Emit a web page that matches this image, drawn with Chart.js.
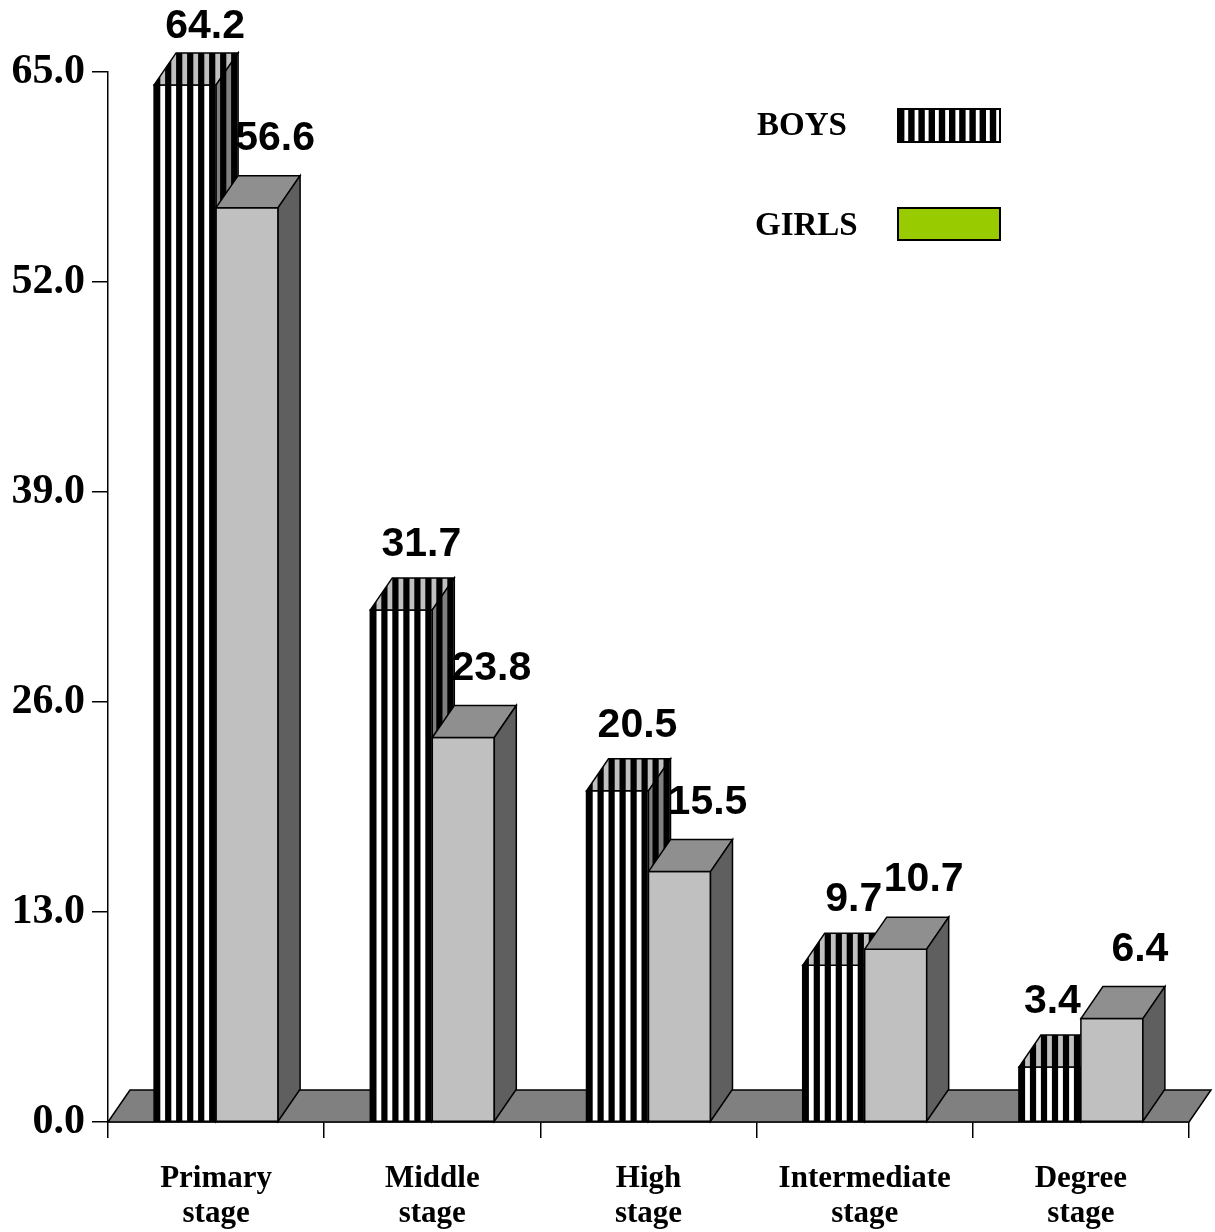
<!DOCTYPE html>
<html>
<head>
<meta charset="utf-8">
<script src="https://cdn.jsdelivr.net/npm/chart.js@4.4.1/dist/chart.umd.min.js"></script>
<style>
    html, body { margin: 0; padding: 0; background: #fff; }
</style>
</head>
<body>
<canvas id="chart" width="1215" height="1232"></canvas>
<script>
var stages = [['Primary', 'stage'], ['Middle', 'stage'], ['High', 'stage'], ['Intermediate', 'stage'], ['Degree', 'stage']];
var boys = [64.2, 31.7, 20.5, 9.7, 3.4];
var girls = [56.6, 23.8, 15.5, 10.7, 6.4];
var yTicks = [0, 13, 26, 39, 52, 65];
var legendNames = ['BOYS', 'GIRLS'];

// depth of the fake 3d
var DX = 22, DY = 32;
var serif = '"Liberation Serif", "Times New Roman", serif';
var sans = '"Liberation Sans", Arial, sans-serif';

function poly(ctx, pts, fill) {
    ctx.beginPath();
    ctx.moveTo(pts[0][0], pts[0][1]);
    for (var i = 1; i < pts.length; i++) {
        ctx.lineTo(pts[i][0], pts[i][1]);
    }
    ctx.closePath();
    if (fill) {
        ctx.fillStyle = fill;
        ctx.fill();
    }
}

function stripes(ctx, pts, x0, x1, y0, y1, period, black) {
    ctx.save();
    poly(ctx, pts);
    ctx.clip();
    ctx.fillStyle = '#000';
    for (var x = x0; x < x1; x += period) {
        ctx.fillRect(x, y0, black, y1 - y0);
    }
    ctx.restore();
}

function drawBox(ctx, bar, colors, striped) {
    var l = bar.x - bar.width / 2, r = bar.x + bar.width / 2, t = bar.y, b = bar.base;
    var faces = [
        [[l, b], [l, t], [r, t], [r, b]],
        [[l, t], [l + DX, t - DY], [r + DX, t - DY], [r, t]],
        [[r, b], [r, t], [r + DX, t - DY], [r + DX, b - DY]]
    ];
    faces.forEach(function (f, i) {
        poly(ctx, f, colors[i]);
        if (striped) {
            stripes(ctx, f, l, r + DX + 2, t - DY - 2, b + 2, 11, 6.2);
        }
        poly(ctx, f);
        ctx.stroke();
    });
}

var box3d = {
    id: 'box3d',
    beforeDatasetsDraw: function (chart) {
        var ctx = chart.ctx, area = chart.chartArea;
        var y0 = chart.scales.y.getPixelForValue(0);
        ctx.save();
        ctx.lineWidth = 1.5;
        ctx.strokeStyle = '#000';
        poly(ctx, [[area.left, y0], [area.left + DX, y0 - DY], [area.right + DX, y0 - DY], [area.right, y0]], '#808080');
        ctx.stroke();

        var boysBars = chart.getDatasetMeta(0).data;
        var girlsBars = chart.getDatasetMeta(1).data;
        for (var i = 0; i < boysBars.length; i++) {
            drawBox(ctx, boysBars[i], ['#ffffff', '#c0c0c0', '#808080'], true);
            drawBox(ctx, girlsBars[i], ['#c0c0c0', '#8f8f8f', '#5f5f5f'], false);
        }
        ctx.restore();
    },
    afterDatasetsDraw: function (chart) {
        var ctx = chart.ctx;
        var boysBars = chart.getDatasetMeta(0).data;
        var girlsBars = chart.getDatasetMeta(1).data;
        ctx.save();
        ctx.fillStyle = '#000';
        ctx.font = 'bold 41px ' + sans;
        ctx.textAlign = 'center';
        ctx.textBaseline = 'alphabetic';
        boysBars.forEach(function (bar, i) {
            var txt = boys[i].toFixed(1);
            var half = ctx.measureText(txt).width / 2;
            var x = bar.x + 20;
            var y = Math.max(bar.y - DY - 22, 38);
            // keep clear of a taller girls bar next to it
            var g = girlsBars[i];
            if (y > g.y - DY && x + half > g.x - g.width / 2) {
                x = g.x - g.width / 2 - half;
            }
            ctx.fillText(txt, x, y);
        });
        girlsBars.forEach(function (bar, i) {
            ctx.fillText(girls[i].toFixed(1), bar.x + 28, bar.y - DY - 26);
        });
        ctx.restore();
    },
    afterDraw: function (chart) {
        var ctx = chart.ctx;
        ctx.save();
        ctx.fillStyle = '#000';
        ctx.font = 'bold 33px ' + serif;
        ctx.textAlign = 'left';
        ctx.textBaseline = 'alphabetic';
        ctx.fillText(legendNames[0], 757, 135);
        ctx.fillText(legendNames[1], 755, 235);

        ctx.lineWidth = 2;
        ctx.strokeStyle = '#000';
        ctx.fillStyle = '#fff';
        ctx.fillRect(898, 109, 102, 33);
        ctx.fillStyle = '#000';
        for (var x = 898; x < 1000; x += 10.2) {
            ctx.fillRect(x, 109, 6.4, 33);
        }
        ctx.strokeRect(898, 109, 102, 33);

        ctx.fillStyle = '#99cc00';
        ctx.fillRect(898, 208, 102, 32);
        ctx.strokeRect(898, 208, 102, 32);
        ctx.restore();
    }
};

new Chart(document.getElementById('chart'), {
    type: 'bar',
    data: {
        labels: stages,
        datasets: [{
            label: legendNames[0],
            data: boys,
            backgroundColor: 'rgba(0,0,0,0)',
            borderWidth: 0
        }, {
            label: legendNames[1],
            data: girls,
            backgroundColor: 'rgba(0,0,0,0)',
            borderWidth: 0
        }]
    },
    options: {
        responsive: false,
        animation: false,
        devicePixelRatio: 1,
        layout: {padding: {top: 72, right: 26, left: 0, bottom: 0}},
        datasets: {bar: {categoryPercentage: 0.5735, barPercentage: 1}},
        plugins: {
            legend: {display: false},
            tooltip: {enabled: false}
        },
        scales: {
            x: {
                grid: {offset: true, drawOnChartArea: false, drawTicks: true, tickLength: 16, color: '#000', lineWidth: 1.5},
                border: {display: true, color: '#000', width: 1.5},
                ticks: {
                    color: '#000',
                    autoSkip: false,
                    maxRotation: 0,
                    padding: 23,
                    font: {family: serif, size: 31, weight: 'bold', lineHeight: 1.13}
                },
                afterFit: function (scale) { scale.height = 110; }
            },
            y: {
                min: 0,
                max: 65,
                afterBuildTicks: function (scale) {
                    scale.ticks = yTicks.map(function (v) { return {value: v}; });
                },
                grid: {drawOnChartArea: false, drawTicks: true, tickLength: 16, color: '#000', lineWidth: 1.5},
                border: {display: true, color: '#000', width: 1.5},
                ticks: {
                    color: '#000',
                    padding: 7,
                    font: {family: serif, size: 42, weight: 'bold'},
                    callback: function (v) { return v.toFixed(1); }
                },
                afterFit: function (scale) { scale.width = 108; }
            }
        }
    },
    plugins: [box3d]
});
</script>
</body>
</html>
